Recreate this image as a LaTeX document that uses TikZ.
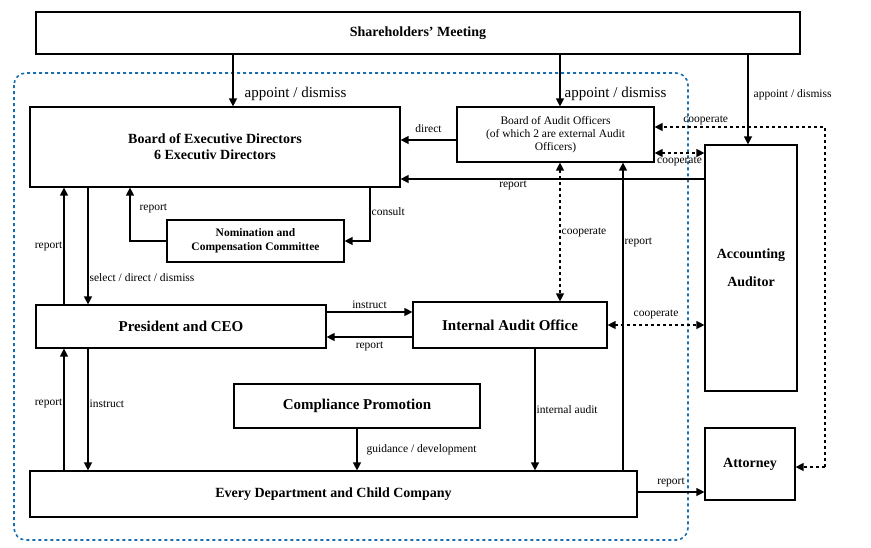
\documentclass[tikz,border=0pt]{standalone}
\usepackage{fontspec}
\setmainfont{Liberation Serif}
\usetikzlibrary{positioning,arrows.meta}
\tikzset{
  unit/.style={draw,line width=1.2pt,font=\bfseries\fontsize{14}{16}\selectfont,align=center,inner sep=0pt},
  lbl/.style={font=\fontsize{11.5}{13}\selectfont,inner sep=1pt},
  biglbl/.style={font=\fontsize{15}{16}\selectfont,inner sep=1pt},
  coop/.style={dashed,line width=1.3pt,{Triangle[length=8pt,width=8pt]}-{Triangle[length=8pt,width=8pt]}}
}
\begin{document}
\begin{tikzpicture}[x=1pt,y=-1pt,>={Triangle[length=8pt,width=8pt]},line width=1.3pt]
\useasboundingbox (0,0) rectangle (871,547);

% boxes
\node[unit,minimum width=764,minimum height=42] (share) at (418,33) {Shareholders' Meeting};
\node[unit,minimum width=370,minimum height=80] (exec) at (215,147) {Board of Executive Directors\\6 Executiv Directors};
\node[unit,minimum width=197,minimum height=55,font=\fontsize{11.5}{13}\selectfont] (audit) at (555.5,134.5) {Board of Audit Officers\\(of which 2 are external Audit\\Officers)};
\node[unit,minimum width=177,minimum height=42,font=\bfseries\fontsize{11.5}{14}\selectfont] (nom) at (255.5,241) {Nomination and\\Compensation Committee};
\node[unit,minimum width=290,minimum height=43,font=\bfseries\fontsize{15}{16}\selectfont] (ceo) at (181,326.5) {President and CEO};
\node[unit,minimum width=194,minimum height=46,font=\bfseries\fontsize{15}{16}\selectfont] (iao) at (510,325) {Internal Audit Office};
\node[unit,minimum width=246,minimum height=44,font=\bfseries\fontsize{15}{16}\selectfont] (comp) at (357,406) {Compliance Promotion};
\node[unit,minimum width=607,minimum height=46] (dept) at (333.5,494) {Every Department and Child Company};
\node[unit,minimum width=92,minimum height=246] (acc) at (751,268) {Accounting\\[12pt]Auditor};
\node[unit,minimum width=90,minimum height=72] (att) at (750,464) {Attorney};

% company boundary
\draw[dashed,line width=1.6pt,draw={rgb,255:red,25;green,110;blue,175},rounded corners=12] (14,73) rectangle (688,540);

% from shareholders
\draw[->] (share.south -| 233,0) -- node[biglbl,right,pos=0.75,xshift=10]{appoint / dismiss} (exec.north -| 233,0);
\draw[->] (share.south -| 560,0) -- node[biglbl,right,pos=0.75,xshift=3]{appoint / dismiss} (audit.north -| 560,0);
\draw[->] (share.south -| 748,0) -- node[lbl,right,pos=0.45,xshift=4]{appoint / dismiss} (acc.north -| 748,0);

% audit board
\draw[->] (audit.west |- 0,140) -- node[lbl,above,yshift=6]{direct} (exec.east |- 0,140);
\draw[->] (acc.west |- 0,179) -- node[lbl,below,pos=0.63]{report} (exec.east |- 0,179);
\draw[coop] (audit.east |- 0,153) -- node[lbl,below,yshift=-2]{cooperate} (acc.west |- 0,153);
\coordinate (c1) at (825,467);
\coordinate (c2) at (825,127);
\draw[dashed,->] (c1) -- (c2) -- node[lbl,above,pos=0.7]{cooperate} (audit.east |- c2);
\draw[dashed,->] (c1) -- (att.east |- c1);
\draw[coop] (audit.south -| 560,0) -- node[lbl,right]{cooperate} (iao.north -| 560,0);
\draw[->] (dept.north -| 623,0) -- node[lbl,right,pos=0.74]{report} (audit.south -| 623,0);
\draw[coop] (iao.east) -- node[lbl,above,yshift=4]{cooperate} (acc.west |- iao.east);

% nomination committee
\coordinate (n1) at (370,241);
\coordinate (n2) at (130,241);
\draw[->] (exec.south -| n1) -- node[lbl,right,pos=0.45]{consult} (n1) -- (nom.east);
\draw[->] (nom.west) -- (n2) -- node[lbl,right,pos=0.6,xshift=8]{report} (exec.south -| n2);

% executive line
\draw[->] (exec.south -| 88,0) -- node[lbl,right,pos=0.77]{select / direct / dismiss} (ceo.north -| 88,0);
\draw[->] (ceo.north -| 64,0) -- node[lbl,left,pos=0.5]{report} (exec.south -| 64,0);
\draw[->] (ceo.east |- 0,312) -- node[lbl,above,yshift=2]{instruct} (iao.west |- 0,312);
\draw[->] (iao.west |- 0,337) -- node[lbl,below,yshift=-3]{report} (ceo.east |- 0,337);
\draw[->] (ceo.south -| 88,0) -- node[lbl,right,pos=0.45]{instruct} (dept.north -| 88,0);
\draw[->] (dept.north -| 64,0) -- node[lbl,left,pos=0.55]{report} (ceo.south -| 64,0);
\draw[->] (comp.south) -- node[lbl,right,xshift=8]{guidance / development} (dept.north -| comp.south);
\draw[->] (iao.south -| 535,0) -- node[lbl,right,pos=0.5]{internal audit} (dept.north -| 535,0);
\draw[->] (dept.east |- 0,492) -- node[lbl,above,yshift=3]{report} (att.west |- 0,492);
\end{tikzpicture}
\end{document}
